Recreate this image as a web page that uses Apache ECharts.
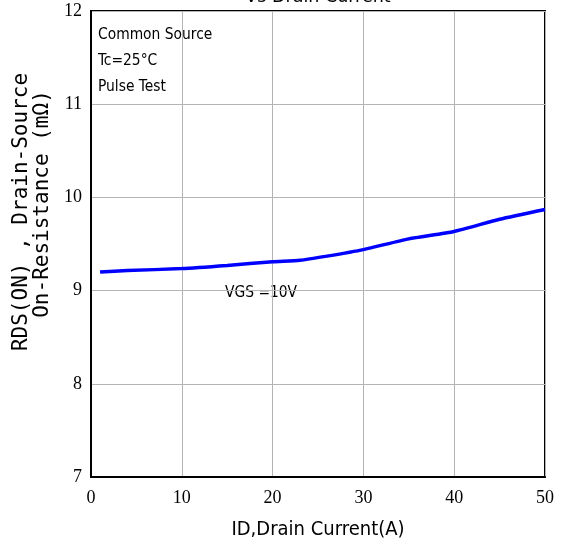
<!DOCTYPE html>
<html><head><meta charset="utf-8">
<script src="https://cdn.jsdelivr.net/npm/echarts@6/dist/echarts.min.js"></script>
<style>html,body{margin:0;padding:0;background:#fff}#c{width:566px;height:548px}</style>
</head><body><div id="c"></div>
<script>
var currents = [1, 4, 10, 15, 20, 23, 26, 30, 35, 40, 45, 50];
var resistance = [9.20, 9.215, 9.236, 9.27, 9.31, 9.325, 9.37, 9.44, 9.555, 9.635, 9.765, 9.87];
var xTicks = [0, 10, 20, 30, 40, 50];
var yTicks = [7, 8, 9, 10, 11, 12];
var notes = ['Common Source', 'Tc=25°C', 'Pulse Test'];
var curveLabel = 'VGS =10V';
var titleText = 'Vs Drain Current';
var xName = 'ID,Drain Current(A)';
var yName1 = 'RDS(ON) , Drain-Source';
var yName2 = 'On-Resistance (mΩ)';

var chart = echarts.init(document.getElementById('c'));
var tickFont = {fontFamily: 'Liberation Serif', fontSize: 18, color: '#000'};
chart.setOption({
  animation: false,
  grid: {left: 91, right: 21, top: 11, bottom: 71, show: true, borderColor: '#000', borderWidth: 2},
  xAxis: {
    type: 'value', min: 0, max: 50, interval: 10,
    axisLine: {show: true, lineStyle: {color: '#000', width: 2}},
    axisTick: {show: false},
    splitLine: {show: true, lineStyle: {color: '#b4b4b4', width: 1}},
    axisLabel: Object.assign({margin: 12}, tickFont)
  },
  yAxis: {
    type: 'value', min: 7, max: 12, interval: 1,
    axisLine: {show: true, lineStyle: {color: '#000', width: 2}},
    axisTick: {show: false},
    splitLine: {show: true, lineStyle: {color: '#b4b4b4', width: 1}},
    axisLabel: Object.assign({margin: 9}, tickFont)
  },
  series: [{
    type: 'line',
    data: currents.map(function (c, i) { return [c, resistance[i]]; }),
    showSymbol: false,
    smooth: 0.2,
    lineStyle: {color: '#0000ff', width: 3.5}
  }],
  graphic: [
    {type: 'text', x: 318, y: 6, style: {text: titleText, font: '17.5px "DejaVu Sans"', fill: '#000', align: 'center', verticalAlign: 'bottom'}},
    {type: 'text', x: 98, y: 35, style: {text: notes[0], font: '15.4px "DejaVu Sans Condensed"', fill: '#000', verticalAlign: 'middle'}},
    {type: 'text', x: 98, y: 61, style: {text: notes[1], font: '15.4px "DejaVu Sans Condensed"', fill: '#000', verticalAlign: 'middle'}},
    {type: 'text', x: 98, y: 87, style: {text: notes[2], font: '15.4px "DejaVu Sans Condensed"', fill: '#000', verticalAlign: 'middle'}},
    {type: 'text', x: 225, y: 293, style: {text: curveLabel, font: '15.4px "DejaVu Sans Condensed"', fill: '#000', verticalAlign: 'middle'}},
    {type: 'text', x: 318, y: 530, style: {text: xName, font: '20px "DejaVu Sans Condensed"', fill: '#000', align: 'center', verticalAlign: 'middle'}},
    {type: 'text', x: 22, y: 212, rotation: Math.PI / 2, style: {text: yName1, font: '21px "DejaVu Sans Mono"', fill: '#000', align: 'center', verticalAlign: 'middle'}},
    {type: 'text', x: 43, y: 204, rotation: Math.PI / 2, style: {text: yName2, font: '21px "DejaVu Sans Mono"', fill: '#000', align: 'center', verticalAlign: 'middle'}}
  ]
});
</script></body></html>
